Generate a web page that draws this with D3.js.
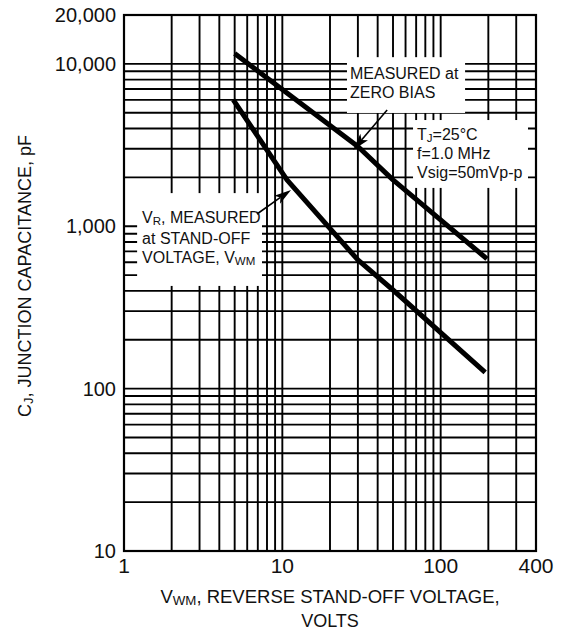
<!DOCTYPE html>
<html>
<head>
<meta charset="utf-8">
<script src="https://cdn.jsdelivr.net/npm/d3@7"></script>
<style>
  html, body { margin: 0; padding: 0; background: #fff; }
  svg text { font-family: "Liberation Sans", Arial, Helvetica, sans-serif; fill: #111; }
</style>
</head>
<body>
<svg id="chart" width="569" height="632"></svg>
<script>
// ---------------- DATA ----------------
const xTickValues = [1, 10, 100, 400];
const xTickLabels = ["1", "10", "100", "400"];
const yTickValues = [10, 100, 1000, 10000, 20000];
const yTickLabels = ["10", "100", "1,000", "10,000", "20,000"];

// grid lines (log grid)
const xGridValues = [2,3,4,5,6,7,8,9,10,20,30,40,50,60,70,80,90,100,200,300];
const yGridValues = [20,30,40,50,60,70,80,90,100,200,300,400,500,600,700,800,900,1000,
                     2000,3000,4000,5000,6000,7000,8000,9000,10000];

// Curve: measured at zero bias (V, pF)
const zeroBiasV = [5, 30, 50, 196];
const zeroBiasC = [11600, 3100, 1930, 630];

// Curve: VR measured at stand-off voltage VWM (V, pF)
const standOffV = [4.9, 10.7, 30, 50, 191];
const standOffC = [6000, 1930, 620, 405, 126];

// annotation boxes in data space [x0, x1, yTop, yBottom]
const boxZeroBias = [25.6, 142.6, 11000, 4985];
const boxStandOff = [1.21, 7.44, 1600, 429];
const boxCond = [66.9, 356, 4510, 1722];

// arrows: [tailX, tailY, tipX, tipY] in data space
const arrowZero = [45.9, 5200, 28, 2950];
const arrowStand = [6.92, 1190, 11.35, 1673];

// ---------------- CHART ----------------
const svg = d3.select("#chart");
const L = 124, T = 15, W = 412, H = 536;
const x = d3.scaleLog().domain([1, 400]).range([L, L + W]);
const y = d3.scaleLog().domain([10, 20000]).range([T + H, T]);

const gridW = 1.9;

// grid
svg.append("g").selectAll("line").data(xGridValues).join("line")
  .attr("x1", d => x(d)).attr("x2", d => x(d))
  .attr("y1", T).attr("y2", T + H)
  .attr("stroke", "#000").attr("stroke-width", gridW);
svg.append("g").selectAll("line").data(yGridValues).join("line")
  .attr("y1", d => y(d)).attr("y2", d => y(d))
  .attr("x1", L).attr("x2", L + W)
  .attr("stroke", "#000").attr("stroke-width", gridW);

// frame
svg.append("rect").attr("x", x(1)).attr("y", y(20000))
  .attr("width", x(400) - x(1)).attr("height", y(10) - y(20000))
  .attr("fill", "none").attr("stroke", "#000").attr("stroke-width", 2.2);

// boxes (white, covering grid)
function box(b) {
  svg.append("rect")
    .attr("x", x(b[0])).attr("y", y(b[2]))
    .attr("width", x(b[1]) - x(b[0])).attr("height", y(b[3]) - y(b[2]))
    .attr("fill", "#fff");
}
box(boxZeroBias); box(boxStandOff); box(boxCond);

// curves
const line = d3.line().x(d => x(d[0])).y(d => y(d[1]));
svg.append("path").datum(zeroBiasV.map((v, i) => [v, zeroBiasC[i]]))
  .attr("d", line).attr("fill", "none").attr("stroke", "#000")
  .attr("stroke-width", 5).attr("stroke-linejoin", "round");
svg.append("path").datum(standOffV.map((v, i) => [v, standOffC[i]]))
  .attr("d", line).attr("fill", "none").attr("stroke", "#000")
  .attr("stroke-width", 5).attr("stroke-linejoin", "round");

// arrows
function arrow(a) {
  const x0 = x(a[0]), y0 = y(a[1]), x1 = x(a[2]), y1 = y(a[3]);
  const dx = x1 - x0, dy = y1 - y0, len = Math.hypot(dx, dy);
  const ux = dx / len, uy = dy / len, px = -uy, py = ux;
  const hl = 17, hw = 5, notch = 13;
  svg.append("line").attr("x1", x0).attr("y1", y0)
    .attr("x2", x1 - ux * notch).attr("y2", y1 - uy * notch)
    .attr("stroke", "#000").attr("stroke-width", 1.6);
  const pts = [
    [x1, y1],
    [x1 - ux * hl + px * hw, y1 - uy * hl + py * hw],
    [x1 - ux * notch, y1 - uy * notch],
    [x1 - ux * hl - px * hw, y1 - uy * hl - py * hw]
  ];
  svg.append("path").attr("d", "M" + pts.map(p => p.join(",")).join("L") + "Z").attr("fill", "#000");
}
arrow(arrowZero); arrow(arrowStand);

// tick labels
svg.append("g").selectAll("text").data(xTickValues).join("text")
  .attr("x", d => x(d)).attr("y", 573)
  .attr("text-anchor", "middle").attr("font-size", 21)
  .text((d, i) => xTickLabels[i]);
svg.append("g").selectAll("text").data(yTickValues).join("text")
  .attr("x", 116).attr("y", d => y(d) + 7)
  .attr("text-anchor", "end").attr("font-size", 20)
  .text((d, i) => yTickLabels[i]);

// annotation texts
function richText(xp, yp, segs, size, extra) {
  const t = svg.append("text").attr("x", xp).attr("y", yp).attr("font-size", size);
  if (extra) extra(t);
  let shifted = false;
  segs.forEach(s => {
    if (typeof s === "string") {
      const ts = t.append("tspan").text(s);
      if (shifted) { ts.attr("dy", -2); shifted = false; }
    } else {
      t.append("tspan").attr("font-size", size * 0.72).attr("dy", 2).text(s.sub);
      shifted = true;
    }
  });
  return t;
}
const bx1 = x(boxZeroBias[0]) + 3, by1 = y(boxZeroBias[2]);
richText(bx1, by1 + 22, ["MEASURED at"], 16);
richText(bx1, by1 + 41, ["ZERO BIAS"], 16);

const bx2 = x(boxStandOff[0]) + 5, by2 = y(boxStandOff[2]);
richText(bx2, by2 + 30, ["V", {sub: "R"}, ", MEASURED"], 16);
richText(bx2, by2 + 51, ["at STAND-OFF"], 16);
richText(bx2, by2 + 70, ["VOLTAGE, V", {sub: "WM"}], 16);

const bx3 = x(boxCond[0]) + 4, by3 = y(boxCond[2]);
richText(bx3, by3 + 20, ["T", {sub: "J"}, "=25°C"], 16);
richText(bx3, by3 + 39, ["f=1.0 MHz"], 16);
richText(bx3, by3 + 58, ["Vsig=50mVp-p"], 16);

// axis titles
const cx = (x(1) + x(400)) / 2;
richText(cx, 603, ["V", {sub: "WM"}, ", REVERSE STAND-OFF VOLTAGE,"], 18.5, t => t.attr("text-anchor", "middle"));
richText(cx, 627, ["VOLTS"], 18, t => t.attr("text-anchor", "middle"));

richText(0, 0, ["C", {sub: "J"}, ", JUNCTION CAPACITANCE, pF"], 18,
  t => t.attr("text-anchor", "middle").attr("transform", "translate(31,276) rotate(-90)"));
</script>
</body>
</html>
